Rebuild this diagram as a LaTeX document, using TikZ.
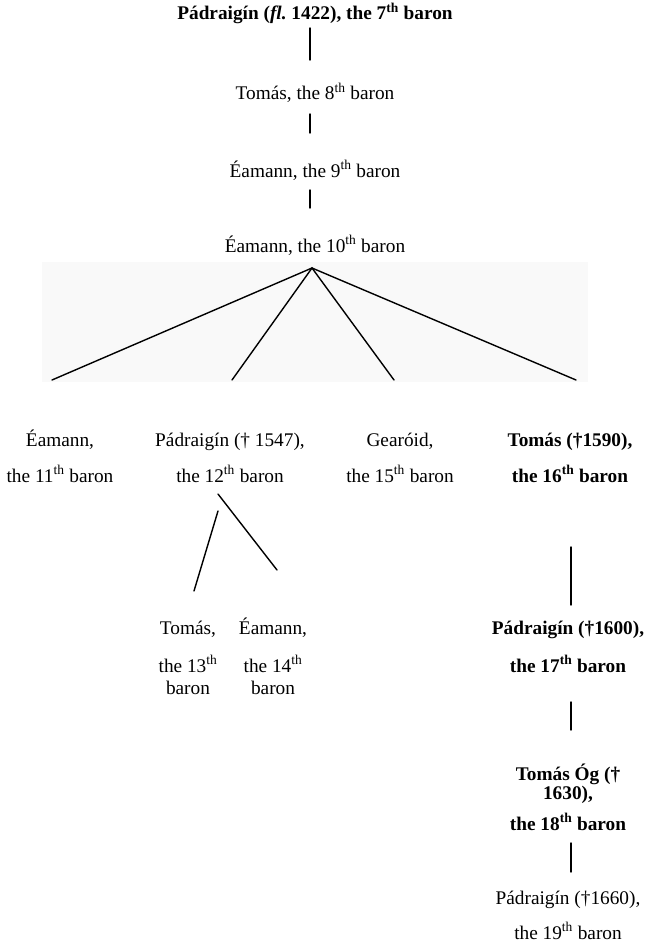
\documentclass[tikz,border=0pt]{standalone}
\usepackage{fontspec}
\setmainfont{Liberation Serif}
\begin{document}
\frenchspacing
\begin{tikzpicture}[x=1pt,y=-1pt,
  lbl/.style={inner sep=0pt, anchor=base, font=\fontsize{19.3}{22}\selectfont, align=center},
  blbl/.style={lbl, font=\fontsize{19.3}{22}\selectfont\bfseries},
  link/.style={line width=1.4pt, line cap=round}]
\useasboundingbox (0,0) rectangle (648,947);
\fill[black!2.5] (42,262) rectangle (588,382);
% chain (base anchor = baseline of last line)
\node[blbl] (b7) at (315,20) {Pádraigín (\textit{fl.} 1422), the 7\textsuperscript{th} baron};
\node[lbl] (b8) at (315,100) {Tomás, the 8\textsuperscript{th} baron};
\node[lbl] (b9) at (315,177) {Éamann, the 9\textsuperscript{th} baron};
\node[lbl] (b10) at (315,252) {Éamann, the 10\textsuperscript{th} baron};
\coordinate (l1a) at (310,28); \coordinate (l1b) at (310,60);
\coordinate (l2a) at (310,114); \coordinate (l2b) at (310,133);
\coordinate (l3a) at (310,190); \coordinate (l3b) at (310,208);
\draw[link] (l1a) -- (l1b);
\draw[link] (l2a) -- (l2b);
\draw[link] (l3a) -- (l3b);
% fan
\coordinate (apex) at (312,268);
\coordinate (f1) at (52,380);
\coordinate (f2) at (232,380);
\coordinate (f3) at (394,380);
\coordinate (f4) at (576,380);
\draw[link] (f1) -- (apex) -- (f4);
\draw[link] (f2) -- (apex) -- (f3);
% second level
\node[lbl] (b11) at (60,482) {Éamann,\\[14pt]the 11\textsuperscript{th} baron};
\node[lbl] (b12) at (230,482) {Pádraigín († 1547),\\[14pt]the 12\textsuperscript{th} baron};
\node[lbl] (b15) at (400,482) {Gearóid,\\[14pt]the 15\textsuperscript{th} baron};
\node[blbl] (b16) at (570,482) {Tomás (†1590),\\[14pt]the 16\textsuperscript{th} baron};
% sub-fan of 12th
\coordinate (s1a) at (218,511); \coordinate (s1b) at (194,591);
\coordinate (s2a) at (218,494); \coordinate (s2b) at (277,570);
\draw[link] (s1a) -- (s1b);
\draw[link] (s2a) -- (s2b);
\node[lbl] (b13) at (188,694) {Tomás,\\[16pt]the 13\textsuperscript{th}\\baron};
\node[lbl] (b14) at (273,694) {Éamann,\\[16pt]the 14\textsuperscript{th}\\baron};
% right chain
\coordinate (r1a) at (571,547); \coordinate (r1b) at (571,605);
\draw[link] (r1a) -- (r1b);
\node[blbl] (b17) at (568,672) {Pádraigín (†1600),\\[16pt]the 17\textsuperscript{th} baron};
\coordinate (r2a) at (571,702); \coordinate (r2b) at (571,730);
\draw[link] (r2a) -- (r2b);
\node[blbl] (b18) at (568,830) {Tomás Óg (†\\[-3pt]1630),\\[9pt]the 18\textsuperscript{th} baron};
\coordinate (r3a) at (571,843); \coordinate (r3b) at (571,872);
\draw[link] (r3a) -- (r3b);
\node[lbl] (b19) at (568,939) {Pádraigín (†1660),\\[13pt]the 19\textsuperscript{th} baron};
\end{tikzpicture}
\end{document}
